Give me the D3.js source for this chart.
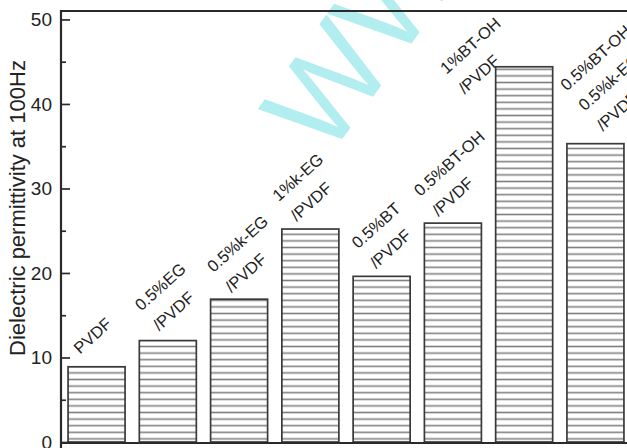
<!DOCTYPE html>
<html lang="en">
<head>
<meta charset="UTF-8">
<title>Dielectric permittivity at 100Hz</title>
<script src="https://d3js.org/d3.v7.min.js"></script>
<style>
  html, body { margin: 0; padding: 0; background: #fff; }
  svg { display: block; font-family: "Liberation Sans", Arial, sans-serif; }
</style>
</head>
<body>
<svg id="chart" width="627" height="448"></svg>
<script>
// samples (each label line is its own entry)
const labels = [
  ["PVDF"],
  ["0.5%EG", "/PVDF"],
  ["0.5%k-EG", "/PVDF"],
  ["1%k-EG", "/PVDF"],
  ["0.5%BT", "/PVDF"],
  ["0.5%BT-OH", "/PVDF"],
  ["1%BT-OH", "/PVDF"],
  ["0.5%BT-OH+", "0.5%k-EG", "/PVDF"]
];
const categories = labels.map(l => l.join(" "));
const permittivity = [8.9, 12.0, 16.9, 25.2, 19.6, 25.9, 44.4, 35.3];
const yTicks = [0, 10, 20, 30, 40, 50];
const yMinorTicks = [5, 15, 25, 35, 45];

// where the last label line starts, relative to the bar's top-left corner
const labelShift = [[12, -12], [20, -9], [21, -6], [15, -7], [23, -7], [14, -6], [-31, 28], [36, -12]];

const svg = d3.select("#chart");
const plotL = 61, plotR = 627, plotT = 11, plotB = 442;

const x = d3.scaleBand()
  .domain(categories)
  .range([62, 630])
  .paddingInner(0.2)
  .paddingOuter(0.085);

const y = d3.scaleLinear()
  .domain([0, 51])
  .range([plotB, plotT]);

// hatch pattern for the bars
const pat = svg.append("defs").append("pattern")
  .attr("id", "hatch")
  .attr("patternUnits", "userSpaceOnUse")
  .attr("width", 10)
  .attr("height", 6.6);
pat.append("rect").attr("width", 10).attr("height", 6.6).attr("fill", "#fff");
pat.append("line")
  .attr("x1", 0).attr("x2", 10)
  .attr("y1", 3.3).attr("y2", 3.3)
  .attr("stroke", "#808080")
  .attr("stroke-width", 1.6);

// watermark
svg.append("g")
  .attr("transform", "translate(327,160) rotate(-54)")
  .append("text")
  .attr("font-size", 125)
  .attr("fill", "#b2eef0")
  .text("WWW");

// bars
svg.append("g")
  .selectAll("rect")
  .data(permittivity)
  .join("rect")
  .attr("x", (d, i) => x(categories[i]))
  .attr("y", d => y(d))
  .attr("width", x.bandwidth())
  .attr("height", d => y(0) - y(d))
  .attr("fill", "url(#hatch)")
  .attr("stroke", "#3a3a3a")
  .attr("stroke-width", 1.7);

// rotated bar labels, one text element per line inside a rotated group
const lineH = 27;
const lab = svg.append("g")
  .selectAll("g")
  .data(labels)
  .join("g")
  .attr("transform", (d, i) => {
    const px = x(categories[i]) + labelShift[i][0];
    const py = y(permittivity[i]) + labelShift[i][1];
    return `translate(${px},${py}) rotate(-42)`;
  });
lab.selectAll("text")
  .data(d => d.map((line, k) => ({ line, off: d.length - 1 - k })))
  .join("text")
  .attr("x", 0)
  .attr("y", d => -d.off * lineH)
  .attr("font-size", 16.5)
  .attr("fill", "#222")
  .text(d => d.line);

// frame: top and bottom lines
svg.append("line")
  .attr("x1", plotL).attr("x2", plotR)
  .attr("y1", plotT).attr("y2", plotT)
  .attr("stroke", "#2a2a2a").attr("stroke-width", 2.2);
svg.append("line")
  .attr("x1", plotL).attr("x2", plotR)
  .attr("y1", plotB + 1).attr("y2", plotB + 1)
  .attr("stroke", "#2a2a2a").attr("stroke-width", 2.2);

const yAxis = svg.append("g")
  .attr("transform", `translate(${plotL},0)`)
  .call(d3.axisRight(y).tickValues(yTicks).tickSize(9).tickFormat(""));
yAxis.select(".domain").remove();
yAxis.selectAll(".tick line").attr("stroke", "#2a2a2a").attr("stroke-width", 1.7);

const yMinor = svg.append("g")
  .attr("transform", `translate(${plotL},0)`)
  .call(d3.axisRight(y).tickValues(yMinorTicks).tickSize(5).tickFormat(""));
yMinor.select(".domain").remove();
yMinor.selectAll(".tick line").attr("stroke", "#2a2a2a").attr("stroke-width", 1.7);

svg.append("line")
  .attr("x1", plotL).attr("x2", plotL)
  .attr("y1", plotT - 1).attr("y2", 448)
  .attr("stroke", "#2a2a2a").attr("stroke-width", 2.2);

// tick labels
svg.append("g")
  .selectAll("text")
  .data(yTicks)
  .join("text")
  .attr("x", 52)
  .attr("y", d => y(d))
  .attr("dy", "0.36em")
  .attr("text-anchor", "end")
  .attr("font-size", 19)
  .attr("fill", "#222")
  .text(d => d);

// axis title
svg.append("g")
  .attr("transform", "translate(25,208) rotate(-90)")
  .append("text")
  .attr("text-anchor", "middle")
  .attr("font-size", 22)
  .attr("fill", "#222")
  .text("Dielectric permittivity at 100Hz");
</script>
</body>
</html>
